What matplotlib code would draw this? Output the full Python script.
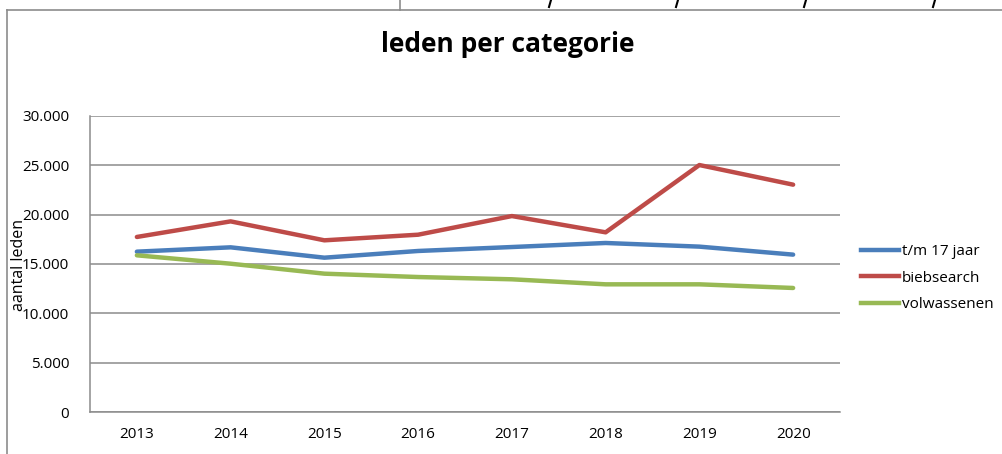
import numpy as np
import matplotlib.pyplot as plt
from matplotlib.lines import Line2D

plt.rcParams['font.family'] = ['Open Sans', 'DejaVu Sans']

years = ['2013', '2014', '2015', '2016', '2017', '2018', '2019', '2020']
tm17 = [16250, 16690, 15640, 16320, 16720, 17130, 16760, 15950]
biebsearch = [17740, 19320, 17400, 17970, 19860, 18210, 25030, 23040]
volwassenen = [15880, 15030, 14020, 13680, 13450, 12940, 12940, 12570]
series_names = ['t/m 17 jaar', 'biebsearch', 'volwassenen']
colors = ['#4a7ebb', '#be4b48', '#98b954']

W, H = 1002, 454
fig = plt.figure(figsize=(W / 100, H / 100), dpi=100)

# plot area in pixel coords
left, right, top, bottom = 90, 840, 116, 412
ax = fig.add_axes([left / W, 1 - bottom / H, (right - left) / W, (bottom - top) / H])

x = np.arange(len(years))
for vals, name, c in zip([tm17, biebsearch, volwassenen], series_names, colors):
    ax.plot(x, vals, color=c, lw=3.2, label=name, solid_capstyle='round', zorder=3)

ax.set_xlim(-0.5, len(years) - 0.5)
ax.set_ylim(0, 30000)
ax.set_yticks(np.arange(0, 30001, 5000))
ax.set_yticklabels(['0' if v == 0 else f'{v // 1000}.000' for v in range(0, 30001, 5000)])
ax.set_xticks(x)
ax.set_xticklabels(years)
ax.tick_params(length=0, labelsize=11, colors='black')
ax.tick_params(axis='y', pad=15)
ax.tick_params(axis='x', pad=11)
ax.grid(axis='y', color='#8c8c8c', lw=1.1)
ax.set_axisbelow(True)
for s in ['top', 'right']:
    ax.spines[s].set_visible(False)
for s in ['left', 'bottom']:
    ax.spines[s].set_color('#8c8c8c')
    ax.spines[s].set_linewidth(1.1)

# y label sits on top of the tick labels, as in the original chart
fig.text(19 / W, 1 - 265 / H, 'aantal leden', rotation=90, ha='center', va='center', fontsize=11.5)
fig.text(508 / W, 1 - 45 / H, 'leden per categorie', ha='center', va='center',
         fontsize=19, fontweight='bold')

handles = [Line2D([], [], color=c, lw=3.2) for c in colors]
fig.legend(handles, series_names, loc='upper left', bbox_to_anchor=(855 / W, 1 - 238 / H),
           frameon=False, fontsize=11, handlelength=2.5, handletextpad=0.15,
           labelspacing=0.75, borderaxespad=0)

# chart frame and cut-off sheet content above it
fig.add_artist(Line2D([7 / W, 7 / W], [0, 1 - 10 / H], color='#8c8c8c', lw=1.2))
fig.add_artist(Line2D([7 / W, 1], [1 - 10 / H, 1 - 10 / H], color='#8c8c8c', lw=1.2))
fig.add_artist(Line2D([400 / W, 400 / W], [1 - 10 / H, 1], color='#8c8c8c', lw=1.2))
for cx in [551, 678, 806, 935]:
    fig.add_artist(Line2D([cx / W, (cx - 2) / W], [1, 1 - 7 / H], color='black', lw=1.5))

fig.savefig('out.png', dpi=100, facecolor='white')
